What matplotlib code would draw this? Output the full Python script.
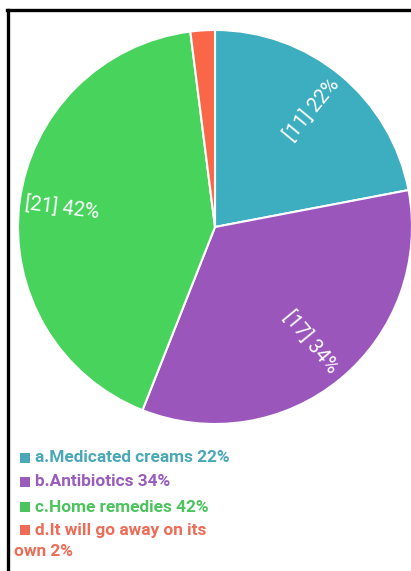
import matplotlib
matplotlib.use("Agg")
import matplotlib.pyplot as plt
from matplotlib.patches import Rectangle
from matplotlib.lines import Line2D
from matplotlib import font_manager
import numpy as np

# Survey responses
categories = ["a.Medicated creams", "b.Antibiotics", "c.Home remedies", "d.It will go away on its own"]
counts = [11, 17, 21, 1]
percents = [22, 34, 42, 2]
slice_colors = ["#3DADC0", "#9B56BC", "#48D35C", "#FA6748"]
text_colors = ["#4AA8B9", "#9A5DBB", "#4CC45E", "#EE6C56"]


def roboto(weight, size):
    """Upright Roboto face with the nearest weight."""
    cands = [f for f in font_manager.fontManager.ttflist
             if f.name == "Roboto" and f.style == "normal"
             and "italic" not in f.fname.lower()]
    if not cands:
        return font_manager.FontProperties(family="DejaVu Sans", weight=weight, size=size)
    best = min(cands, key=lambda f: abs(int(f.weight) - weight) if str(f.weight).isdigit() else 999)
    return font_manager.FontProperties(fname=best.fname, size=size)


W, H = 411, 571
fig = plt.figure(figsize=(W / 100, H / 100), dpi=100)
fig.patch.set_facecolor("white")

# Pie axes: centre (215, 227) px, radius 197 px
cx, cy, R = 215, 227, 197
ax = fig.add_axes([(cx - R) / W, (H - cy - R) / H, 2 * R / W, 2 * R / H])
wedges, _ = ax.pie(counts, colors=slice_colors, startangle=90, counterclock=False,
                   radius=1.0, wedgeprops=dict(edgecolor="white", linewidth=1.5))
ax.set_xlim(-1, 1)
ax.set_ylim(-1, 1)
ax.set_aspect("equal")
ax.axis("off")

# Radial in-slice labels
label_fp = roboto(400, 14.3)
label_r = [0.77, 0.76, 0.78, 0.75]
total = sum(counts)
cum = 0
for i, (c, p) in enumerate(zip(counts, percents)):
    mid = 90 - 360 * (cum + c / 2) / total
    cum += c
    if p < 5:
        continue
    th = np.deg2rad(mid)
    rot = mid
    if rot < -90:
        rot += 180
    ax.text(label_r[i] * np.cos(th), label_r[i] * np.sin(th), f"[{c}] {p}%",
            rotation=rot, rotation_mode="anchor", ha="center", va="center",
            color="white", fontproperties=label_fp)

# Legend
legend_fp = roboto(700, 12.4)
rows_y = [458, 482, 507, 530]
for cat, p, col, ty in zip(categories, percents, text_colors, rows_y):
    fig.patches.append(Rectangle((20 / W, (H - ty - 5) / H), 10 / W, 10 / H,
                                 transform=fig.transFigure, facecolor=col, edgecolor="none"))
    if cat.startswith("d."):
        fig.text(35 / W, (H - ty) / H, "d.It will go away on its", color=col,
                 fontproperties=legend_fp, va="center", ha="left")
        fig.text(14 / W, (H - 552) / H, f"own {p}%", color=col,
                 fontproperties=legend_fp, va="center", ha="left")
    else:
        fig.text(35 / W, (H - ty) / H, f"{cat} {p}%", color=col,
                 fontproperties=legend_fp, va="center", ha="left")

# Frame lines (top and left)
fig.lines.append(Line2D([7 / W, 1], [(H - 10) / H] * 2, transform=fig.transFigure,
                        color="black", linewidth=2.4))
fig.lines.append(Line2D([8 / W] * 2, [0, (H - 10) / H], transform=fig.transFigure,
                        color="black", linewidth=2.4))

fig.savefig("out.png", dpi=100)
